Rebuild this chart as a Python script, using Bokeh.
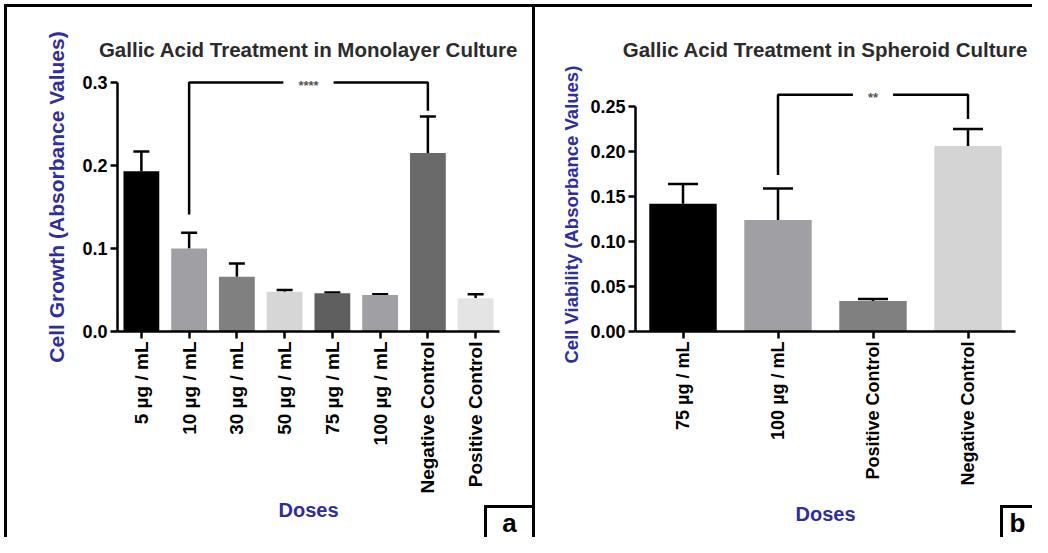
import math
from bokeh.plotting import figure
from bokeh.layouts import GridBox
from bokeh.models import (ColumnDataSource, Whisker, TeeHead, Range1d, FixedTicker,
                          NumeralTickFormatter, Label, Div, Title)
from bokeh.embed import file_html
from bokeh.resources import INLINE

# ---------------- data ----------------
a_doses = ["5 µg / mL", "10 µg / mL", "30 µg / mL", "50 µg / mL", "75 µg / mL",
           "100 µg / mL", "Negative Control", "Positive Control"]
a_mean = [0.193, 0.100, 0.066, 0.048, 0.046, 0.044, 0.215, 0.040]
a_upper = [0.217, 0.119, 0.082, 0.050, 0.047, 0.045, 0.259, 0.045]
a_colors = ["#000000", "#a0a0a4", "#808080", "#d6d6d6", "#5f5f5f", "#a0a0a4",
            "#6a6a6a", "#e4e4e4"]
a_yticks = [0.0, 0.1, 0.2, 0.3]
a_bracket = {"left": "10 µg / mL", "right": "Negative Control", "y": 0.3,
             "left_end": 0.141, "right_end": 0.266, "text": "****"}

b_doses = ["75 µg / mL", "100 µg / mL", "Positive Control", "Negative Control"]
b_mean = [0.142, 0.124, 0.034, 0.206]
b_upper = [0.164, 0.159, 0.036, 0.225]
b_colors = ["#000000", "#a0a0a4", "#808080", "#d4d4d4"]
b_yticks = [0.0, 0.05, 0.10, 0.15, 0.20, 0.25]
b_bracket = {"left": "100 µg / mL", "right": "Negative Control", "y": 0.263,
             "left_end": 0.174, "right_end": 0.236, "text": "**"}

FONT = "Liberation Sans"
BLUE = "#2e2e9e"
H = 537


def make_panel(title, ylabel, doses, mean, upper, colors, yticks, fmt, yend,
               bracket, width, border_left, border_right, bar_w, cap,
               tick_font, doses_standoff, ylabel_font, ylabel_standoff, ylabel_shift,
               shadow):
    p = figure(x_range=doses, y_range=Range1d(0, yend), width=width, height=H,
               output_backend="svg", toolbar_location=None,
               min_border_left=border_left, min_border_right=border_right,
               min_border_top=62, min_border_bottom=H - 331,
               border_fill_color=None, background_fill_color="white",
               outline_line_color=None,
               styles={"box-shadow": shadow})
    p.title.text = title
    p.title.align = "center"
    p.title.text_font = FONT
    p.title.text_font_size = "20.5px"
    p.title.text_font_style = "bold"
    p.title.text_color = "#2b2b2b"
    p.title.standoff = 3

    src = ColumnDataSource(dict(dose=doses, mean=mean, upper=upper, color=colors))
    p.vbar(x="dose", top="mean", width=bar_w, source=src, fill_color="color",
           line_color=None)
    w = Whisker(base="dose", upper="upper", lower="mean", source=src,
                line_width=2.5, line_color="black", lower_head=None,
                upper_head=TeeHead(size=cap, line_width=2.5, line_color="black"))
    p.add_layout(w)

    # significance bracket
    bx = [bracket["left"], bracket["left"], bracket["right"], bracket["right"]]
    by = [bracket["left_end"], bracket["y"], bracket["y"], bracket["right_end"]]
    p.line(bx, by, line_width=2.5, line_color="black")
    cx = (doses.index(bracket["left"]) + doses.index(bracket["right"])) / 2 + 0.5
    p.add_layout(Label(x=cx, y=bracket["y"], text=bracket["text"], text_align="center",
                       text_baseline="middle", text_font=FONT, text_font_size="13px",
                       text_font_style="bold", text_color="#555555", y_offset=-3,
                       background_fill_color="white", padding=15))

    # axes
    p.xgrid.grid_line_color = None
    p.ygrid.grid_line_color = None
    for ax in (p.xaxis[0], p.yaxis[0]):
        ax.axis_line_width = 2.5
        ax.axis_line_color = "black"
        ax.major_tick_line_width = 2.5
        ax.major_tick_line_color = "black"
        ax.major_tick_out = 7
        ax.major_tick_in = 0
        ax.minor_tick_line_color = None
        ax.major_label_standoff = 3
        ax.major_label_text_font = FONT
        ax.major_label_text_font_style = "bold"
        ax.major_label_text_color = "black"
        ax.axis_label_text_font = FONT
        ax.axis_label_text_font_style = "bold"
        ax.axis_label_text_color = BLUE
    ya = p.yaxis[0]
    ya.ticker = FixedTicker(ticks=yticks)
    ya.formatter = NumeralTickFormatter(format=fmt)
    ya.bounds = (0, yticks[-1])
    ya.major_label_text_font_size = "18px"
    if ylabel_shift == 0:
        ya.axis_label = ylabel
        ya.axis_label_text_font_size = ylabel_font
        ya.axis_label_standoff = ylabel_standoff
    else:
        # y-axis title starting below the axis origin, as in the reference
        p.add_layout(Title(text=ylabel, align="left", offset=ylabel_shift,
                           standoff=ylabel_standoff, text_font=FONT,
                           text_font_size=ylabel_font, text_font_style="bold",
                           text_color=BLUE), "left")
    xa = p.xaxis[0]
    xa.major_label_orientation = math.pi / 2
    xa.major_label_text_font_size = tick_font
    xa.axis_label = "Doses"
    xa.axis_label_text_font_size = "20px"
    xa.axis_label_standoff = doses_standoff
    return p


def letter_box(letter, width, right_border):
    rb = "3px solid #000" if right_border else "none"
    html = ('<div style="box-sizing:border-box;width:%dpx;height:32px;'
            'border-top:3px solid #000;border-left:3px solid #000;border-right:%s;'
            'background:#fff;text-align:center;font-family:\'Liberation Sans\';'
            'font-size:26px;font-weight:bold;line-height:30px;color:#000;">%s</div>'
            % (width, rb, letter))
    return Div(text=html, width=width, height=32, margin=0, align="end")


pa = make_panel("Gallic Acid Treatment in Monolayer Culture",
                "Cell Growth (Absorbance Values)", a_doses, a_mean, a_upper, a_colors,
                a_yticks, "0.0", 0.3241, a_bracket, 535, 117, 36, 0.75, 16,
                "19px", 2, "21px", 11, 0,
                "inset 0 4px 0 0 #fff, inset 4px 0 0 0 #fff, inset 0 7px 0 0 #000, "
                "inset 7px 0 0 0 #000, inset -3px 0 0 0 #000")
pb = make_panel("Gallic Acid Treatment in Spheroid Culture",
                "Cell Viability (Absorbance Values)", b_doses, b_mean, b_upper, b_colors,
                b_yticks, "0.00", 0.2989, b_bracket, 497, 100, 17, 0.71, 30,
                "18px", 14, "18.5px", 12, -32,
                "inset 0 4px 0 0 #fff, inset 0 7px 0 0 #000")

box_a = letter_box("a", 51, True)
box_b = letter_box("b", 32, False)

layout = GridBox(children=[(pa, 0, 0), (box_a, 0, 0), (pb, 0, 1), (box_b, 0, 1)],
                 spacing=0)
open("out.html", "w").write(file_html(layout, INLINE))
